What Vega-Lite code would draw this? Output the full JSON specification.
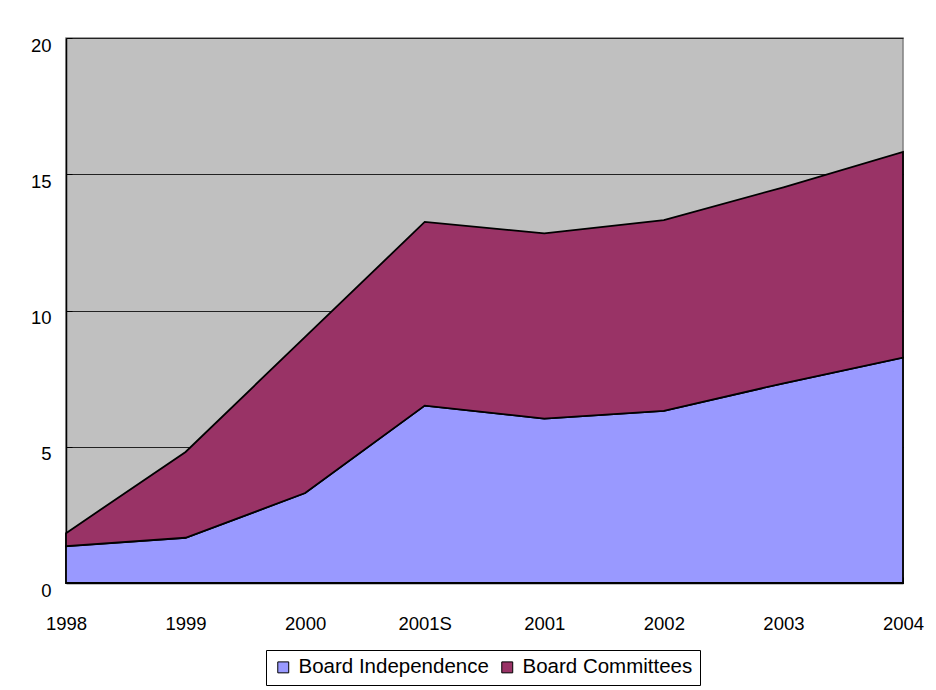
{
  "$schema": "https://vega.github.io/schema/vega-lite/v6.json",
  "autosize": "none",
  "width": 837,
  "height": 545,
  "padding": {"left": 66, "top": 38, "right": 33, "bottom": 107},
  "background": "white",
  "config": {
    "font": "Liberation Sans",
    "view": {"fill": "#C0C0C0", "stroke": "#808080", "strokeWidth": 1.5},
    "axis": {
      "labelFont": "Liberation Sans",
      "labelColor": "black",
      "labelFontSize": 18.5,
      "domainColor": "black",
      "domainWidth": 1.5,
      "tickColor": "black",
      "title": null
    }
  },
  "data": {
    "values": [
      {"year": "1998", "series": "Board Independence", "k": 1, "score": 1.35},
      {"year": "1999", "series": "Board Independence", "k": 1, "score": 1.66},
      {"year": "2000", "series": "Board Independence", "k": 1, "score": 3.30},
      {"year": "2001S", "series": "Board Independence", "k": 1, "score": 6.51},
      {"year": "2001", "series": "Board Independence", "k": 1, "score": 6.03},
      {"year": "2002", "series": "Board Independence", "k": 1, "score": 6.32},
      {"year": "2003", "series": "Board Independence", "k": 1, "score": 7.33},
      {"year": "2004", "series": "Board Independence", "k": 1, "score": 8.27},
      {"year": "1998", "series": "Board Committees", "k": 2, "score": 0.48},
      {"year": "1999", "series": "Board Committees", "k": 2, "score": 3.15},
      {"year": "2000", "series": "Board Committees", "k": 2, "score": 5.73},
      {"year": "2001S", "series": "Board Committees", "k": 2, "score": 6.74},
      {"year": "2001", "series": "Board Committees", "k": 2, "score": 6.80},
      {"year": "2002", "series": "Board Committees", "k": 2, "score": 7.00},
      {"year": "2003", "series": "Board Committees", "k": 2, "score": 7.19},
      {"year": "2004", "series": "Board Committees", "k": 2, "score": 7.55}
    ]
  },
  "mark": {"type": "area", "stroke": "black", "strokeWidth": 1.8, "strokeJoin": "miter", "opacity": 1},
  "encoding": {
    "x": {
      "field": "year",
      "type": "ordinal",
      "sort": ["1998", "1999", "2000", "2001S", "2001", "2002", "2003", "2004"],
      "scale": {"type": "point", "padding": 0},
      "axis": {"labelAngle": 0, "tickSize": -6, "labelPadding": 37, "grid": false}
    },
    "y": {
      "field": "score",
      "type": "quantitative",
      "stack": "zero",
      "scale": {"domain": [0, 20], "nice": false},
      "axis": {
        "values": [0, 5, 10, 15, 20],
        "tickSize": -6,
        "labelPadding": 21,
        "labelOffset": 7,
        "grid": true,
        "gridColor": "#222222",
        "gridWidth": 1
      }
    },
    "order": {"field": "k", "type": "quantitative", "sort": "ascending"},
    "color": {
      "field": "series",
      "type": "nominal",
      "scale": {
        "domain": ["Board Independence", "Board Committees"],
        "range": ["#9999FF", "#993366"]
      },
      "legend": {
        "title": null,
        "orient": "none",
        "legendX": 200,
        "legendY": 612,
        "direction": "horizontal",
        "fillColor": "white",
        "strokeColor": "black",
        "padding": 7,
        "symbolType": "square",
        "symbolSize": 120,
        "symbolStrokeColor": "black",
        "symbolStrokeWidth": 1,
        "symbolOpacity": 1,
        "labelFont": "Liberation Sans",
        "labelFontSize": 20.5,
        "labelColor": "black",
        "labelLimit": 0,
        "labelOffset": 5,
        "columnPadding": 8
      }
    }
  }
}
